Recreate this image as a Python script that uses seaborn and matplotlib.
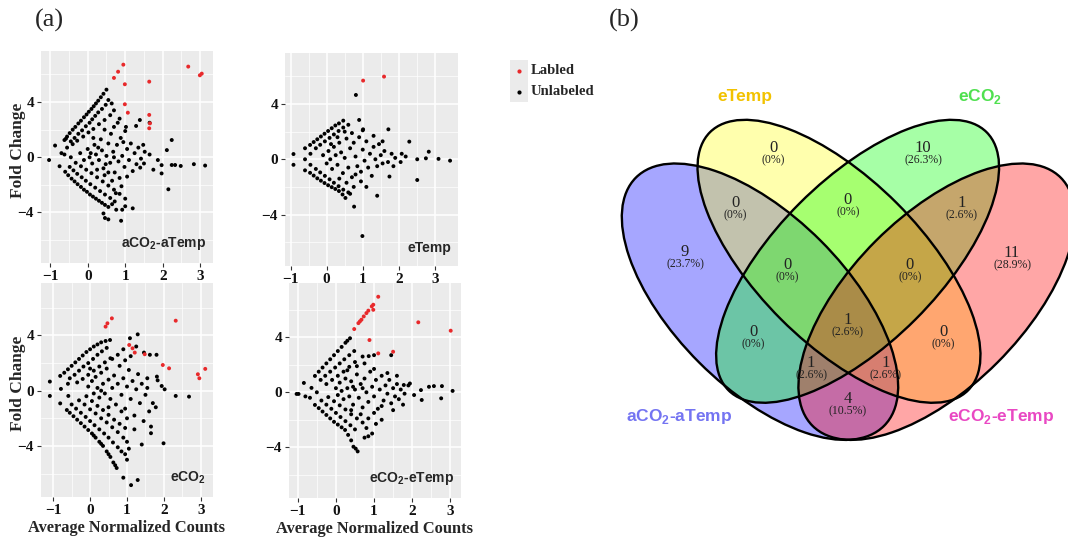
import matplotlib
matplotlib.use("Agg")
import matplotlib.pyplot as plt
from matplotlib.patches import Ellipse, Rectangle
import pandas as pd
import seaborn as sns

sns.set_theme(style="darkgrid", rc={"axes.facecolor": "#EBEBEB", "grid.color": "white"})
plt.rcParams["font.family"] = ["Liberation Serif", "DejaVu Serif"]
plt.rcParams["mathtext.fontset"] = "custom"
plt.rcParams["mathtext.rm"] = "Liberation Sans"
plt.rcParams["mathtext.bf"] = "Liberation Sans:bold"

# ---------------------------------------------------------------
# (a) MA plots: (average normalized counts, fold change)
# ---------------------------------------------------------------
aco2_atemp_red = [(0.95, 6.71), (0.81, 6.2), (0.70, 5.75), (0.99, 5.29), (1.64, 5.48),
                  (0.99, 3.84), (1.07, 3.23), (1.64, 3.07), (1.66, 2.46), (1.64, 2.1),
                  (2.68, 6.57), (2.99, 5.94), (3.04, 6.06)]
aco2_atemp_black = [
    (-0.62, 1.25), (-0.55, 1.5), (-0.48, 1.75), (-0.40, 2.0), (-0.33, 2.2), (-0.25, 2.45),
    (-0.18, 2.65), (-0.10, 2.9), (-0.03, 3.1), (0.03, 3.3), (0.10, 3.5), (0.16, 3.7),
    (0.22, 3.9), (0.28, 4.1), (0.35, 4.35), (0.42, 4.6), (0.50, 4.9),
    (-0.45, 1.15), (-0.35, 1.4), (-0.25, 1.7), (-0.15, 1.95), (-0.05, 2.25), (0.05, 2.5),
    (0.12, 2.75), (0.2, 3.0), (0.28, 3.25), (0.38, 3.5), (0.48, 3.8),
    (-0.55, 0.7), (-0.4, 0.95), (-0.28, 1.2), (-0.12, 1.5), (0.02, 1.8), (0.15, 2.05),
    (0.3, 2.4), (0.45, 2.7), (0.6, 3.05),
    (-0.60, -1.05), (-0.52, -1.3), (-0.43, -1.55), (-0.35, -1.75), (-0.27, -1.95),
    (-0.18, -2.15), (-0.10, -2.35), (-0.02, -2.5), (0.06, -2.7), (0.14, -2.85),
    (0.22, -3.0), (0.30, -3.15), (0.38, -3.3), (0.46, -3.45), (0.55, -3.6),
    (-0.48, -0.7), (-0.38, -0.95), (-0.28, -1.2), (-0.16, -1.45), (-0.05, -1.7),
    (0.07, -1.95), (0.2, -2.2), (0.33, -2.45), (0.46, -2.7), (0.6, -2.95), (0.72, -3.2),
    (-0.32, -0.4), (-0.18, -0.65), (-0.04, -0.9), (0.1, -1.15), (0.25, -1.45),
    (0.4, -1.75), (0.55, -2.05), (0.7, -2.35), (0.85, -2.65), (1.0, -3.0),
    (-1.03, -0.2), (-0.87, 0.85), (-0.75, -0.65), (-0.62, 0.2), (-0.58, 1.35),
    (-0.45, 0.0), (-0.7, 0.3),
    (-0.2, 0.3), (-0.1, -0.2), (0.0, 0.6), (0.05, 0.0), (0.12, -0.45), (0.18, 0.9),
    (0.22, 0.2), (0.3, -0.2), (0.35, 1.3), (0.38, 0.5), (0.42, -0.8), (0.5, 0.1),
    (0.55, 1.0), (0.6, -0.4), (0.62, 1.7), (0.68, 0.4), (0.72, -1.1), (0.78, 0.9),
    (0.82, -0.3), (0.88, 1.4), (0.92, 0.1), (0.98, -0.7), (1.05, 0.6), (1.1, -0.2),
    (1.15, 1.0), (1.2, -1.0), (1.25, 0.3), (1.3, -0.5), (1.35, 0.7), (1.42, -0.1),
    (1.48, 0.9), (1.52, 0.4), (1.5, -0.45), (1.4, -0.75), (0.25, -0.9), (0.45, -1.3),
    (0.65, -1.7), (0.85, -1.5), (1.05, -1.4), (0.9, -2.1), (0.75, -2.6), (0.55, -1.1),
    (0.15, 1.4), (0.45, 2.0), (0.7, 2.2), (0.85, 2.8), (1.0, 1.9), (0.95, 1.1),
    (0.08, 0.3), (0.28, 0.7), (0.48, -0.5), (0.7, 0.0),
    (0.55, 4.15), (0.64, 3.9), (0.7, 3.4), (0.8, 2.5), (1.02, 2.2), (1.29, 2.27),
    (1.39, 2.7), (1.65, 2.5),
    (2.24, 1.25), (2.11, 0.52), (1.87, -0.2), (1.97, -0.57), (1.97, -1.17), (2.24, -0.56),
    (2.33, -0.56), (2.48, -0.63), (2.83, -0.5), (3.13, -0.6), (2.15, -2.32), (1.65, 0.2),
    (1.75, -0.9),
    (0.89, -4.6), (0.76, -3.8), (0.92, -3.8), (0.42, -4.07), (0.46, -4.4), (0.55, -4.5),
    (1.2, -3.7), (0.65, -3.4), (1.0, -3.55),
]

etemp_red = [(1.01, 5.7), (1.59, 5.99)]
etemp_black = [
    (-0.92, 0.38), (-0.92, -0.4), (-0.6, 0.8), (-0.6, -0.8), (-0.6, 0.0), (-0.45, 0.4),
    (-0.45, -0.4),
    (-0.46, 1.04), (-0.36, 1.25), (-0.26, 1.45), (-0.16, 1.65), (-0.06, 1.85), (0.04, 2.05),
    (0.14, 2.25), (0.24, 2.45), (0.34, 2.6), (0.46, 2.8),
    (-0.3, 0.8), (-0.18, 1.05), (-0.05, 1.3), (0.08, 1.55), (0.2, 1.8), (0.33, 2.05),
    (0.46, 2.3), (0.6, 2.5),
    (-0.46, -0.98), (-0.36, -1.18), (-0.26, -1.38), (-0.16, -1.55), (-0.06, -1.72),
    (0.04, -1.88), (0.14, -2.02), (0.24, -2.15), (0.34, -2.3), (0.44, -2.55), (0.52, -2.8),
    (-0.3, -0.7), (-0.18, -0.95), (-0.05, -1.2), (0.08, -1.45), (0.2, -1.7), (0.33, -1.95),
    (0.46, -2.2), (0.6, -2.4),
    (-0.1, 0.3), (0.0, -0.3), (0.05, 0.6), (0.1, 0.0), (0.15, -0.7), (0.2, 0.9), (0.25, 0.3),
    (0.3, -0.4), (0.35, 1.2), (0.4, 0.5), (0.45, -1.0), (0.5, 0.1), (0.55, 1.5), (0.6, -0.6),
    (0.65, 0.8), (0.7, -1.3), (0.75, 1.2), (0.8, 0.2), (0.85, -0.5), (0.9, 1.6), (0.95, -0.9),
    (1.0, 0.7), (1.05, -0.1), (1.1, 1.3), (1.15, -0.6), (1.2, 0.4), (1.25, -1.2), (1.3, 0.9),
    (1.35, 0.0), (1.4, -0.5), (1.45, 1.1), (1.5, 0.3), (1.55, -0.3), (1.6, 0.6), (1.7, -0.2),
    (1.8, 0.4), (1.85, -0.5), (1.9, 0.1), (0.12, 1.1), (0.3, 1.6), (0.5, 2.0), (0.7, 1.9),
    (0.35, -1.4), (0.55, -1.7), (0.75, -2.0), (0.95, -1.6), (1.1, -2.0), (0.65, -2.5),
    (0.8, -1.1), (1.0, 2.1),
    (0.81, 4.66), (0.9, 2.85), (1.01, 2.17), (1.71, 2.17), (2.29, 1.28), (2.83, 0.55),
    (2.75, 0.07), (2.51, 0.0), (3.1, 0.03), (3.42, -0.1), (2.51, -1.5), (1.40, -2.64),
    (0.76, -3.43), (0.99, -5.56), (1.74, -1.25), (2.08, 0.4), (2.19, 0.2), (2.05, -0.2),
    (1.3, 1.7), (1.55, 1.3),
]

eco2_red = [(0.42, 4.64), (0.47, 4.88), (0.59, 5.24), (2.32, 5.07), (1.06, 3.31), (1.15, 3.07),
            (1.21, 2.76), (1.48, 2.64), (1.97, 1.86), (2.14, 1.62), (2.92, 1.19), (2.96, 0.9),
            (3.12, 1.58)]
eco2_black = [
    (-1.09, 0.66), (-1.09, -0.38), (-0.79, 0.13), (-0.81, -0.92), (-0.59, -0.38), (-0.6, 0.5),
    (-0.81, 1.07), (-0.7, 1.3), (-0.6, 1.55), (-0.5, 1.8), (-0.4, 2.05), (-0.3, 2.3),
    (-0.2, 2.55), (-0.1, 2.8), (0.0, 3.0), (0.1, 3.2), (0.2, 3.35), (0.3, 3.5), (0.42, 3.6),
    (0.54, 3.67),
    (-0.55, 0.9), (-0.42, 1.15), (-0.3, 1.45), (-0.18, 1.75), (-0.05, 2.0), (0.08, 2.3),
    (0.2, 2.6), (0.32, 2.85), (0.45, 3.1),
    (-0.35, 0.6), (-0.2, 0.85), (-0.05, 1.15), (0.1, 1.45), (0.25, 1.75), (0.4, 2.05),
    (0.55, 2.35),
    (-0.63, -1.4), (-0.55, -1.6), (-0.45, -1.85), (-0.35, -2.1), (-0.25, -2.35), (-0.15, -2.6),
    (-0.05, -2.85), (0.05, -3.1), (0.15, -3.4), (0.25, -3.7), (0.35, -4.0), (0.45, -4.4),
    (0.55, -4.8), (0.63, -5.2), (0.72, -5.6), (0.68, -5.4), (0.1, -3.25), (0.3, -3.85),
    (0.5, -4.6),
    (-0.5, -1.0), (-0.38, -1.3), (-0.25, -1.6), (-0.12, -1.9), (0.0, -2.2), (0.12, -2.5),
    (0.25, -2.8), (0.38, -3.1), (0.5, -3.4), (0.62, -3.75), (0.75, -4.1), (0.85, -4.4),
    (-0.3, -0.7), (-0.15, -1.0), (0.0, -1.35), (0.15, -1.65), (0.3, -2.0), (0.45, -2.3),
    (0.6, -2.65), (0.75, -3.0), (0.9, -3.4), (1.0, -3.7),
    (-0.1, -0.4), (0.05, -0.75), (0.2, -1.1), (0.35, -1.4), (0.5, -1.75), (0.65, -2.1),
    (0.8, -2.4), (0.95, -2.7),
    (-0.05, 0.3), (0.05, 0.7), (0.1, -0.2), (0.15, 1.0), (0.2, 0.2), (0.25, -0.5), (0.3, 1.3),
    (0.35, 0.5), (0.4, -0.2), (0.45, 1.6), (0.5, 0.8), (0.55, -0.6), (0.6, 0.2), (0.65, 1.1),
    (0.7, -1.0), (0.75, 0.5), (0.8, 1.8), (0.85, -0.3), (0.9, 0.9), (0.95, -1.3), (1.0, 0.3),
    (1.05, 1.5), (1.1, -0.6), (1.15, 0.7), (1.2, -1.8), (1.25, 0.1), (1.3, 1.2), (1.35, -0.9),
    (1.4, 0.5), (1.45, -2.2), (1.5, -0.3), (1.55, 0.9), (1.6, -1.5), (1.65, -2.6), (1.0, -2.0),
    (0.85, -1.5), (1.2, -2.8), (0.6, 2.3), (0.75, 2.6), (0.95, 2.2), (1.1, 2.5), (0.3, 0.0),
    (0.5, -1.2), (0.0, 1.6),
    (1.29, 4.08), (1.08, 3.8), (1.46, 2.76), (1.25, 3.2), (1.62, 2.6), (1.8, 2.6), (0.9, 3.0),
    (1.81, 1.02), (1.83, 0.75), (1.94, 0.34), (1.7, -0.9), (1.78, -1.2), (2.32, -0.38),
    (2.68, -0.43), (1.99, -3.81), (1.65, -3.08), (1.4, -3.9), (1.55, 0.2), (2.02, 0.1),
    (1.29, -6.47), (1.11, -6.84), (0.9, -6.3), (1.0, -5.0), (1.05, -4.2), (0.95, -4.6),
]

eco2_etemp_red = [(0.48, 4.6), (0.59, 5.03), (0.63, 5.16), (0.67, 5.28), (0.73, 5.52),
                  (0.80, 5.76), (0.85, 5.94), (0.94, 6.25), (0.98, 6.37), (0.98, 6.0),
                  (1.11, 6.95), (0.88, 3.8), (1.11, 2.83), (1.5, 2.95), (2.16, 5.09),
                  (3.01, 4.48)]
eco2_etemp_black = [
    (-1.03, -0.12), (-0.98, -0.12), (-0.84, 0.68), (-0.68, -0.4), (-0.64, 0.32), (-0.8, -0.3),
    (-0.5, 0.0),
    (-0.55, 1.19), (-0.45, 1.5), (-0.35, 1.8), (-0.25, 2.1), (-0.15, 2.4), (-0.05, 2.7),
    (0.05, 3.0), (0.15, 3.3), (0.25, 3.6), (0.37, 3.93), (0.3, 3.75),
    (-0.4, 0.9), (-0.28, 1.2), (-0.15, 1.5), (-0.02, 1.8), (0.1, 2.1), (0.22, 2.4),
    (0.35, 2.7), (0.48, 3.0),
    (-0.25, 0.6), (-0.1, 0.9), (0.05, 1.2), (0.2, 1.5), (0.35, 1.85), (0.5, 2.2),
    (-0.55, -0.92), (-0.45, -1.15), (-0.35, -1.4), (-0.25, -1.65), (-0.15, -1.9),
    (-0.05, -2.15), (0.05, -2.35), (0.15, -2.55), (0.24, -2.74), (0.32, -3.1), (0.4, -3.5),
    (0.46, -3.96), (0.57, -4.3), (0.52, -4.1),
    (-0.38, -0.6), (-0.25, -0.9), (-0.12, -1.2), (0.0, -1.5), (0.12, -1.8), (0.25, -2.1),
    (0.38, -2.4), (0.5, -2.7),
    (-0.2, -0.35), (-0.05, -0.65), (0.1, -0.95), (0.25, -1.25), (0.4, -1.6), (0.55, -1.9),
    (0.7, -2.2),
    (0.0, 0.3), (0.05, -0.2), (0.1, 0.7), (0.15, 0.1), (0.2, -0.5), (0.25, 1.0), (0.3, 0.3),
    (0.35, -0.3), (0.4, 0.8), (0.45, -0.9), (0.5, 0.2), (0.55, 1.3), (0.6, -0.4), (0.65, 0.6),
    (0.7, -1.1), (0.75, 1.0), (0.8, 0.0), (0.85, -0.7), (0.9, 1.5), (0.95, 0.4), (1.0, -0.3),
    (1.05, 0.9), (1.1, -1.2), (1.15, 0.2), (1.2, 1.2), (1.25, -0.6), (1.3, 0.5), (1.35, -0.1),
    (1.4, 0.9), (1.45, -0.8), (1.5, 0.3), (1.55, -0.3), (1.6, 0.6), (1.65, -0.5), (1.7, 0.2),
    (1.8, -0.1), (1.9, 0.5), (0.3, 1.6), (0.55, 1.9), (0.75, 2.1), (1.0, 1.7), (0.4, -1.3),
    (0.65, -1.6), (0.85, -1.9), (1.0, -1.5), (0.8, -2.6), (1.05, -2.3), (0.95, -3.0),
    (1.2, -2.0), (0.45, 0.4), (0.7, 0.3),
    (1.45, 2.7), (0.86, 2.63), (0.7, 2.6), (1.0, 2.7), (1.78, 0.53), (1.94, 0.64),
    (2.05, -0.2), (2.23, 0.16), (2.44, 0.4), (2.57, 0.45), (2.78, 0.45), (3.06, 0.1),
    (2.25, -0.56), (2.76, -0.44), (1.76, -0.9), (1.5, -1.3), (0.85, -3.2), (0.75, -3.3),
    (1.2, -1.0), (1.35, 1.4), (1.6, 1.2),
]

# ---------------------------------------------------------------
# (b) Venn counts
# ---------------------------------------------------------------
venn_sets = ["aCO2-aTemp", "eTemp", "eCO2", "eCO2-eTemp"]
venn_regions = ["A", "B", "C", "D", "AB", "BC", "CD", "ABC", "BCD",
                "AC", "BD", "ABCD", "ACD", "ABD", "AD"]
venn_counts = [9, 0, 10, 11, 0, 0, 1, 0, 0, 0, 0, 1, 1, 1, 4]


def ma_frame(black, red):
    rows = [(x, y, "Unlabeled") for x, y in black] + [(x, y, "Labled") for x, y in red]
    return pd.DataFrame(rows, columns=["count", "fold", "status"])


fig = plt.figure(figsize=(10.68, 5.38), dpi=100)
W, H = 1068, 538


def px_rect(left, top, right, bottom):
    return [left / W, 1 - bottom / H, (right - left) / W, (bottom - top) / H]


panels = [
    # data, label, rect(px), xlim, ylim, ylabel?, xlabel?
    (ma_frame(aco2_atemp_black, aco2_atemp_red), r"aCO$_\mathbf{2}$-aTemp",
     px_rect(41, 51, 213, 263), (-1.245, 3.34), (-7.66, 7.7), True, False),
    (ma_frame(etemp_black, etemp_red), "eTemp",
     px_rect(285, 53, 458, 266), (-1.155, 3.64), (-7.73, 7.7), False, False),
    (ma_frame(eco2_black, eco2_red), r"eCO$_\mathbf{2}$",
     px_rect(41, 283, 213, 497), (-1.33, 3.33), (-7.7, 7.8), True, True),
    (ma_frame(eco2_etemp_black, eco2_etemp_red), r"eCO$_\mathbf{2}$-eTemp",
     px_rect(289, 283, 461, 498), (-1.23, 3.28), (-7.69, 7.95), False, True),
]

palette = {"Unlabeled": "black", "Labled": "#E8292B"}
for df, label, rect, xlim, ylim, show_y, show_x in panels:
    ax = fig.add_axes(rect)
    sns.scatterplot(data=df, x="count", y="fold", hue="status", palette=palette,
                    s=8, linewidth=0, legend=False, ax=ax)
    ax.set_facecolor("#EBEBEB")
    for sp in ax.spines.values():
        sp.set_visible(False)
    ax.set_xlim(*xlim)
    ax.set_ylim(*ylim)
    ax.set_xticks([-1, 0, 1, 2, 3])
    ax.set_yticks([-4, 0, 4])
    ax.set_xticks([-0.5, 0.5, 1.5, 2.5], minor=True)
    ax.set_yticks([-6, -2, 2, 6], minor=True)
    ax.grid(which="major", color="white", lw=1.1)
    ax.grid(which="minor", color="white", lw=0.5)
    ax.set_axisbelow(True)
    ax.tick_params(which="major", length=3, width=0.8, color="#333333", pad=2,
                   labelsize=11, labelcolor="#111111", left=True, bottom=True)
    ax.tick_params(which="minor", length=0)
    for t in ax.get_xticklabels() + ax.get_yticklabels():
        t.set_fontweight("bold")
    ax.set_xlabel("")
    ax.set_ylabel("")
    if show_x:
        ax.set_xlabel("Average Normalized Counts", fontsize=11.8, fontweight="bold",
                      labelpad=2)
    if show_y:
        x0, y0, w0, h0 = rect
        fig.text(18 / W, y0 + h0 / 2 + 0.012, "Fold Change", rotation=90, ha="center",
                 va="center", fontsize=12.5, fontweight="bold")
    ax.text(0.96, 0.05, label, transform=ax.transAxes, ha="right", va="bottom",
            fontsize=10, fontweight="bold", family="Liberation Sans")

# legend for (a)
lax = fig.add_axes(px_rect(510, 60, 528, 102))
lax.set_xlim(0, 1)
lax.set_ylim(2, 0)
lax.axis("off")
for i, (name, col) in enumerate([("Labled", palette["Labled"]), ("Unlabeled", "black")]):
    lax.add_patch(Rectangle((0, i + 0.02), 1, 0.96, facecolor="#EBEBEB", edgecolor="none"))
    lax.scatter([0.5], [i + 0.5], s=9, color=col, linewidth=0)
    lax.text(1.15, i + 0.5, name, ha="left", va="center", fontsize=10.5,
             fontweight="bold", clip_on=False)

fig.text(49 / W, 1 - 20 / H, "(a)", fontsize=19, ha="center", va="center")
fig.text(624 / W, 1 - 20 / H, "(b)", fontsize=19, ha="center", va="center")

# ---------------------------------------------------------------
# (b) Venn diagram in pixel coordinates
# ---------------------------------------------------------------
vax = fig.add_axes([600 / W, 0, 468 / W, 1])
vax.set_xlim(600, 1068)
vax.set_ylim(538, 0)
vax.axis("off")

ellipses = [  # center, width, height, angle, fill, alpha
    ((760.0, 301.7), 351, 172, 45, "#0000FF", 0.35),
    ((839.0, 261.3), 365, 164, 45, "#FFFF00", 0.32),
    ((857.6, 261.3), 365, 164, -45, "#00FF00", 0.35),
    ((936.6, 301.7), 351, 172, -45, "#FF0000", 0.35),
]
for c, w, h, ang, col, a in ellipses:
    vax.add_patch(Ellipse(c, w, h, angle=ang, facecolor=col, alpha=a, edgecolor="none"))
for c, w, h, ang, col, a in ellipses:
    vax.add_patch(Ellipse(c, w, h, angle=ang, fill=False, edgecolor="black", lw=1.7))

region_pos = {
    "A": (685, 252), "B": (773, 148), "C": (923, 148), "D": (1012, 253),
    "AB": (735, 203), "BC": (848, 200), "CD": (962, 203), "ABC": (787, 265),
    "BCD": (910, 265), "AC": (753, 332), "BD": (943, 332), "ABCD": (848, 320),
    "ACD": (811, 363), "ABD": (886, 363), "AD": (848, 399),
}
total = sum(venn_counts)
for reg, n in zip(venn_regions, venn_counts):
    x, y = region_pos[reg]
    pct = "(0%)" if n == 0 else f"({n / total * 100:.1f}%)"
    vax.text(x, y, str(n), ha="center", va="center", fontsize=12, color="#222222")
    vax.text(x, y + 12, pct, ha="center", va="center", fontsize=8.5, color="#222222")

set_labels = [
    (r"aCO$_\mathbf{2}$-aTemp", (679, 416), "#7474F2"),
    ("eTemp", (745, 97), "#F2C200"),
    (r"eCO$_\mathbf{2}$", (980, 97), "#4FE04F"),
    (r"eCO$_\mathbf{2}$-eTemp", (1001, 416), "#E948C3"),
]
for txt, (x, y), col in set_labels:
    vax.text(x, y, txt, ha="center", va="center", fontsize=12.5, fontweight="bold",
             family="Liberation Sans", color=col)

fig.savefig("out.png", dpi=100)
